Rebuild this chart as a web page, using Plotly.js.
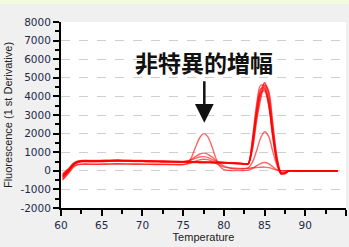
<!DOCTYPE html>
<html>
<head>
<meta charset="utf-8">
<script src="https://cdn.plot.ly/plotly-3.0.1.min.js"></script>
<style>
html,body{margin:0;padding:0;background:#f0f0f0;}
#chart{width:349px;height:247px;}
</style>
</head>
<body>
<div id="chart"></div>
<script>
// Temperature grid shared by every curve
const temperature = [60.2,61,61.5,62,62.5,63,64,65,66,67,68,69,70,71,72,73,74,75,75.5,76,76.5,77,77.5,78,78.5,79,79.5,80,81,82,82.5,83,83.5,84,84.5,85,85.5,86,86.5,87,87.5,88,89,90,92,94];

// Specific product curves (main melt peak near 85 °C)
const main1 = [-300,60,320,460,510,520,510,520,540,550,540,530,520,510,505,500,490,485,480,475,470,465,460,455,450,445,440,435,415,395,375,380,1700,3500,4600,4550,3700,2000,550,-150,-120,0,0,0,0,0];
const main2 = [-200,120,380,500,540,550,540,550,560,560,550,545,535,525,515,505,500,495,490,485,480,475,470,465,460,455,450,445,425,400,380,390,1400,3100,4300,4700,4000,2200,650,-120,-130,0,0,0,0,0];
const main3 = [-400,0,280,430,480,490,480,490,510,520,510,500,495,485,480,470,460,455,450,445,440,435,430,428,425,420,415,410,395,370,350,360,1200,2800,4000,4750,4200,2400,750,-100,-150,0,0,0,0,0];
const main4 = [-250,80,340,470,520,530,520,530,545,550,545,535,525,515,505,500,495,490,485,480,475,470,465,460,455,450,445,440,420,395,370,375,1600,3300,4400,4450,3600,1900,500,-160,-110,0,0,0,0,0];
const main5 = [-350,30,300,440,500,505,500,505,520,530,525,515,505,495,490,485,475,470,465,460,455,450,445,440,435,430,425,420,400,380,360,365,1100,2600,3800,4600,4300,2600,800,-80,-160,0,0,0,0,0];
const main6 = [-150,150,400,520,550,560,550,560,575,580,570,560,550,540,530,520,510,505,500,495,490,485,480,475,470,465,460,455,430,405,385,390,1500,3100,4200,4300,3500,1800,480,-170,-100,0,0,0,0,0];

// Non-specific amplification curves (extra peak near 77.5 °C)
const nonspec1 = [-500,-100,180,320,350,355,345,350,360,365,360,355,350,345,340,335,330,330,380,700,1250,1750,2000,1850,1350,700,250,60,10,10,20,40,120,260,390,450,390,220,60,0,0,0,0,0,0,0];
const nonspec2 = [-300,60,330,470,510,515,505,515,530,535,530,520,510,500,495,490,485,485,530,620,760,890,950,900,760,570,400,260,120,90,110,160,450,1050,1750,2100,1850,1050,320,-100,-80,0,0,0,0,0];
const nonspec3 = [-250,100,360,480,520,530,520,530,545,550,545,535,525,515,505,500,490,490,520,580,670,740,760,720,620,520,470,450,430,400,380,385,1300,2900,4100,4400,3700,2000,600,-140,-120,0,0,0,0,0];
const nonspec4 = [-450,-50,220,330,360,365,355,360,370,375,370,365,360,355,350,345,340,340,370,430,520,590,620,600,520,400,290,200,150,130,130,140,160,180,190,200,170,110,40,0,0,0,0,0,0,0];

const seriesList = [main1, main2, main3, main4, main5, main6, nonspec1, nonspec2, nonspec3, nonspec4];
const seriesNames = ['main1','main2','main3','main4','main5','main6','nonspec1','nonspec2','nonspec3','nonspec4'];

const xTickVals = [60,65,70,75,80,85,90,95];
const yTickVals = [-2000,-1000,0,1000,2000,3000,4000,5000,6000,7000,8000];

const traces = seriesList.map((ys, i) => ({
  x: temperature,
  y: ys,
  name: seriesNames[i],
  type: 'scatter',
  mode: 'lines',
  line: {color: 'rgba(255,0,0,0.6)', width: 1.4, shape: 'spline', smoothing: 0.8},
  hoverinfo: 'skip'
}));

const tickFont = {family: 'DejaVu Sans', size: 10.5, color: '#1e2b4a'};
const titleFont = {family: 'Liberation Sans', size: 11, color: '#222'};

const layout = {
  width: 349,
  height: 247,
  paper_bgcolor: '#f0f0f0',
  plot_bgcolor: '#ffffff',
  margin: {l: 61, r: 3, t: 22, b: 39, pad: 0},
  showlegend: false,
  xaxis: {
    range: [60, 95],
    tickvals: xTickVals,
    ticktext: xTickVals.map(String),
    ticks: 'outside', ticklen: 6, tickwidth: 2, tickcolor: '#000',
    minor: {dtick: 2.5, tick0: 60, ticks: 'outside', ticklen: 4, tickwidth: 2, tickcolor: '#000', showgrid: false},
    showline: true, linecolor: '#000', linewidth: 2,
    showgrid: false, zeroline: false,
    tickfont: tickFont,
    title: {text: 'Temperature', font: titleFont, standoff: 4}
  },
  yaxis: {
    range: [-2000, 8000],
    tickvals: yTickVals,
    ticktext: yTickVals.map(String),
    ticks: 'outside', ticklen: 6, tickwidth: 2, tickcolor: '#000',
    minor: {dtick: 500, tick0: 0, ticks: 'outside', ticklen: 4, tickwidth: 2, tickcolor: '#000', showgrid: false},
    showline: true, linecolor: '#000', linewidth: 2,
    showgrid: true, gridcolor: '#cfcfcf', griddash: 'dash', gridwidth: 1,
    zeroline: false,
    tickfont: tickFont,
    title: {text: 'Fluorescence (1 st Derivative)', font: titleFont, standoff: 6}
  },
  shapes: [
    {type: 'rect', xref: 'paper', yref: 'paper', x0: -0.3, x1: 1.1, y0: 1.0, y1: 1.2, fillcolor: '#f0f0f0', line: {width: 0}, layer: 'below'}
  ],
  annotations: [
    {x: 77.6, y: 5860, xref: 'x', yref: 'y', text: '<b>非特異的増幅</b>', showarrow: false,
     font: {family: 'Noto Sans CJK JP', size: 23, color: '#111'}},
    {x: 77.6, y: 2580, xref: 'x', yref: 'y', ax: 77.6, ay: 4890, axref: 'x', ayref: 'y', text: '',
     showarrow: true, arrowhead: 2, arrowsize: 1.5, arrowwidth: 2.5, arrowcolor: '#111'}
  ]
};

Plotly.newPlot('chart', traces, layout, {staticPlot: true, displayModeBar: false}).then(() => {
  // light green strip along the top edge of the window
  const svg = document.querySelector('#chart .main-svg');
  const ns = 'http://www.w3.org/2000/svg';
  const r = document.createElementNS(ns, 'rect');
  r.setAttribute('x', 0); r.setAttribute('y', 0);
  r.setAttribute('width', 349); r.setAttribute('height', 4);
  r.setAttribute('fill', '#f3fbe0');
  const bg = svg.querySelector('.bg');
  if (bg && bg.nextSibling) svg.insertBefore(r, bg.nextSibling); else svg.appendChild(r);
});
</script>
</body>
</html>
